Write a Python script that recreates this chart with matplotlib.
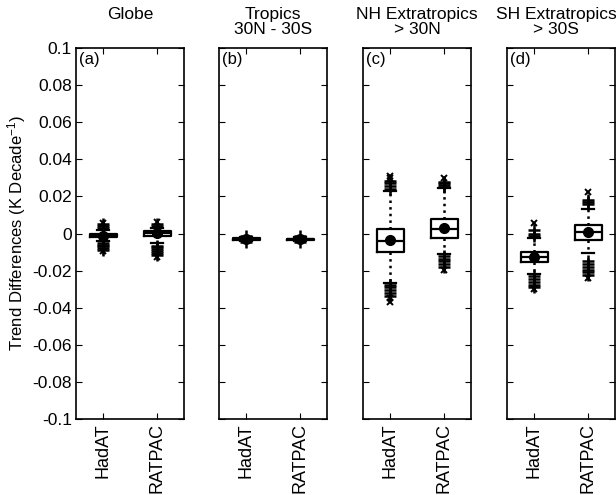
import matplotlib as mpl
mpl.use('Agg')

import matplotlib.pyplot as plt
from matplotlib.ticker import FuncFormatter
import numpy as np

plt.rcParams['font.family'] = ['Liberation Sans', 'DejaVu Sans']
plt.rcParams['mathtext.fontset'] = 'custom'
plt.rcParams['mathtext.rm'] = 'Liberation Sans'
plt.rcParams['mathtext.it'] = 'Liberation Sans:italic'

# regions and datasets
regions = ['Globe', 'Tropics\n30N - 30S', 'NH Extratropics\n> 30N',
           'SH Extratropics\n> 30S']
panel_tags = ['(a)', '(b)', '(c)', '(d)']
datasets = ['HadAT', 'RATPAC']

# box statistics, ordered (a) HadAT, (a) RATPAC, (b) HadAT, ... (d) RATPAC
medians = [-0.0012, 0.0002, -0.0030, -0.0031, -0.0040, 0.0024, -0.0127, 0.0008]
means = [-0.0012, 0.0003, -0.0030, -0.0031, -0.0035, 0.0030, -0.0127, 0.0008]
q1 = [-0.0020, -0.0015, -0.0034, -0.0035, -0.0100, -0.0024, -0.0154, -0.0035]
q3 = [-0.0004, 0.0015, -0.0026, -0.0027, 0.0024, 0.0078, -0.0100, 0.0046]
whislo = [-0.0040, -0.0050, -0.0040, -0.0041, -0.0267, -0.0110, -0.0218, -0.0105]
whishi = [0.0020, 0.0030, -0.0020, -0.0021, 0.0230, 0.0245, -0.0024, 0.0132]

# outliers ('+') and extreme outliers ('x')
outliers = [
    [0.0030, 0.0040, 0.0050, -0.0050, -0.0060, -0.0070, -0.0080, -0.0088],
    [0.0040, 0.0050, -0.0065, -0.0075, -0.0085, -0.0095, -0.0105, -0.0115],
    [-0.0015, -0.0045],
    [-0.0016, -0.0046],
    [0.0240, 0.0255, 0.0270, 0.0285, -0.0280, -0.0290, -0.0305, -0.0320,
     -0.0335],
    [0.0250, 0.0260, 0.0270, 0.0280, -0.0120, -0.0135, -0.0150, -0.0165,
     -0.0180],
    [-0.0015, 0.0000, 0.0020, -0.0230, -0.0245, -0.0260, -0.0275, -0.0290],
    [0.0160, 0.0170, 0.0180, -0.0150, -0.0165, -0.0180, -0.0195, -0.0210,
     -0.0225],
]
extremes = [
    [0.0058, -0.0095],
    [0.0060, -0.0125],
    [],
    [],
    [0.0300, 0.0312, -0.0350, -0.0368],
    [0.0300, -0.0195],
    [0.0057, -0.0300],
    [0.0224, -0.0240],
]

FIG_W, FIG_H = 616, 495
AX_LEFTS = [76, 219, 363, 507]
AX_W = 108
AX_TOP = 48
AX_BOTTOM = 419
# title centres; the last one is pulled in so it stays on the canvas
TITLE_X = [130, 273, 417, 556]

fig = plt.figure(figsize=(FIG_W / 100, FIG_H / 100), dpi=100)

yticks = np.round(np.linspace(-0.1, 0.1, 11), 2)

for i, region in enumerate(regions):
    ax = fig.add_axes([AX_LEFTS[i] / FIG_W, 1 - AX_BOTTOM / FIG_H,
                       AX_W / FIG_W, (AX_BOTTOM - AX_TOP) / FIG_H])
    stats = []
    for j in range(2):
        k = 2 * i + j
        stats.append({
            'med': medians[k], 'mean': means[k],
            'q1': q1[k], 'q3': q3[k],
            'whislo': whislo[k], 'whishi': whishi[k],
            'fliers': outliers[k],
        })
    ax.bxp(stats, positions=[1, 2], widths=0.5, capwidths=0.22,
           showmeans=True,
           boxprops=dict(color='black', linewidth=1.6),
           medianprops=dict(color='black', linewidth=1.6),
           whiskerprops=dict(color='black', linewidth=1.8, linestyle=':'),
           capprops=dict(color='black', linewidth=1.6),
           meanprops=dict(marker='o', markerfacecolor='black',
                          markeredgecolor='black', markersize=7),
           flierprops=dict(marker='+', markeredgecolor='black',
                           markersize=8, markeredgewidth=1.8))
    for j in range(2):
        vals = extremes[2 * i + j]
        ax.plot([j + 1] * len(vals), vals, linestyle='none', marker='x',
                color='black', markersize=5, markeredgewidth=1.4)

    ax.set_xlim(0.5, 2.5)
    ax.set_ylim(-0.1, 0.1)
    ax.set_xticks([1, 2])
    ax.set_xticklabels(datasets, rotation=90, fontsize=13)
    ax.set_yticks(yticks)
    ax.yaxis.set_major_formatter(FuncFormatter(lambda v, p: '%g' % round(v, 2)))
    ax.tick_params(direction='in', length=4, width=0.8, top=True, right=True,
                   labelsize=12.5, pad=3)
    ax.tick_params(axis='x', labelsize=13)
    if i > 0:
        ax.tick_params(labelleft=False)
    for spine in ax.spines.values():
        spine.set_linewidth(1.2)

    ax.text(0.03, 0.99, panel_tags[i], transform=ax.transAxes,
            ha='left', va='top', fontsize=12)
    fig.text(TITLE_X[i] / FIG_W, 1 - 7 / FIG_H, region,
             ha='center', va='top', fontsize=12.5, linespacing=1.0)

fig.text(17 / FIG_W, 1 - (AX_TOP + AX_BOTTOM) / 2 / FIG_H,
         'Trend Differences (K Decade$^{-1}$)', rotation=90,
         ha='center', va='center', fontsize=12)

fig.savefig('out.png', dpi=100)
plt.close()
